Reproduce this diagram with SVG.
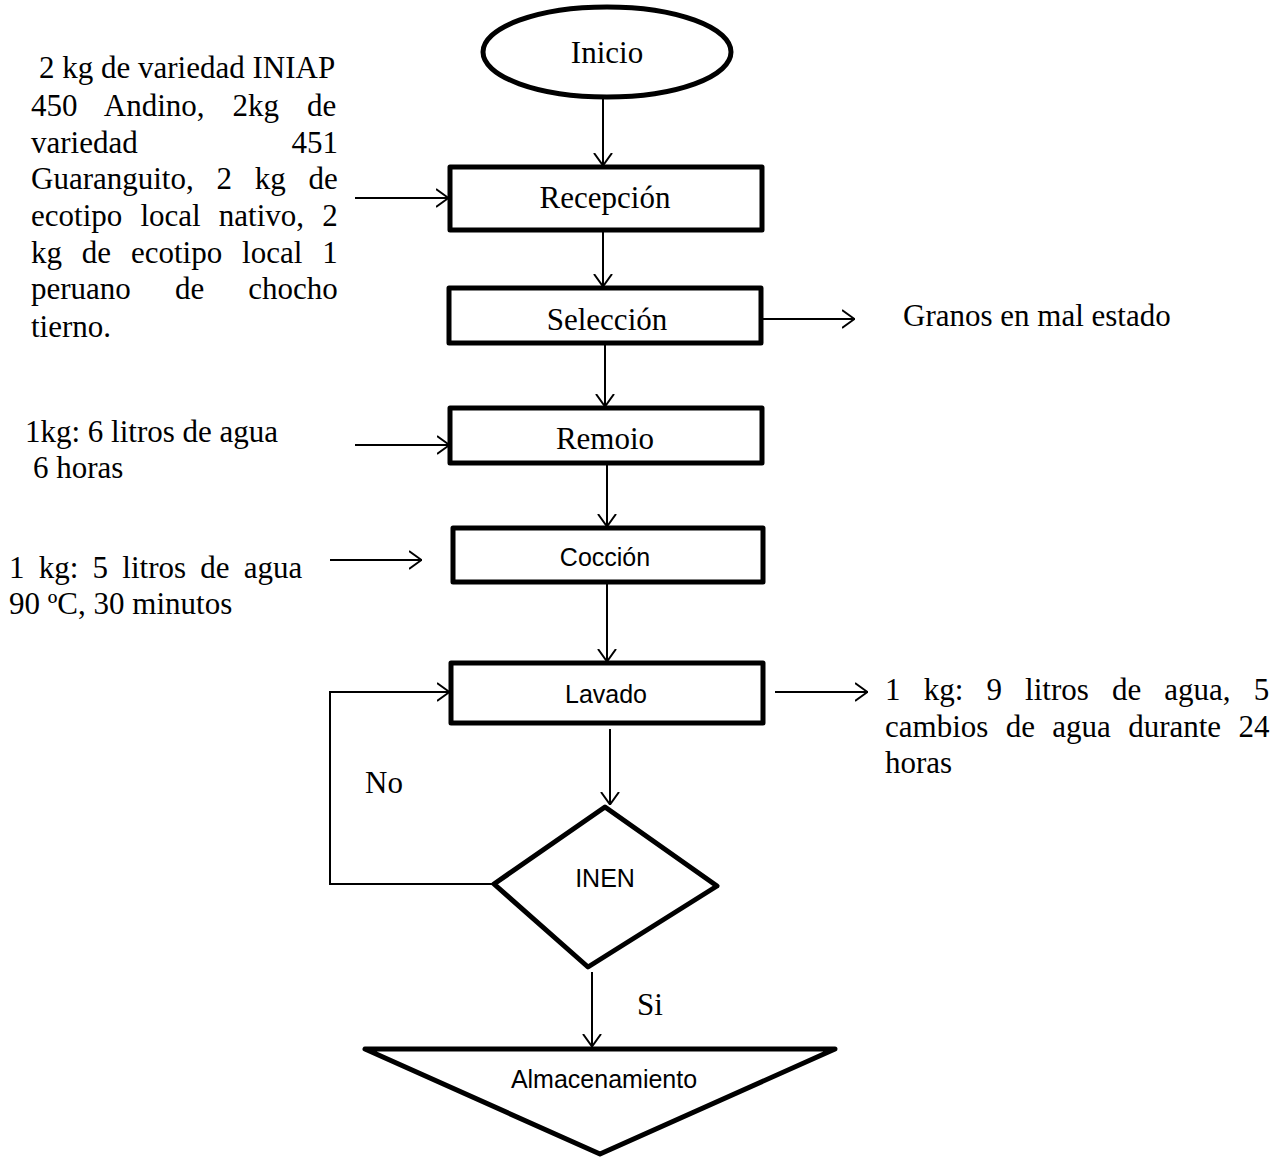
<svg xmlns="http://www.w3.org/2000/svg" width="1288" height="1157" viewBox="0 0 1288 1157">
<style>
.shape{fill:#fff;stroke:#000;stroke-width:5;stroke-linejoin:round}
.conn{fill:none;stroke:#000;stroke-width:2}
.ser{font-family:"Liberation Serif","Times New Roman",serif;font-size:31px;fill:#000}
.sans{font-family:"Liberation Sans",Arial,sans-serif;font-size:25px;fill:#000}
.mid{text-anchor:middle}
.end{text-anchor:end}
</style>
<defs>
<marker id="ah" viewBox="0 0 13 20" refX="13" refY="10" markerWidth="13" markerHeight="20" markerUnits="userSpaceOnUse" orient="auto">
<path d="M0,1 L12.5,10 L0,19" fill="none" stroke="#000" stroke-width="2"/>
</marker>
</defs>
<rect width="1288" height="1157" fill="#fff"/>
<g id="connectors">
<line class="conn" x1="603" y1="98" x2="603" y2="166" marker-end="url(#ah)"/>
<line class="conn" x1="603" y1="231" x2="603" y2="287" marker-end="url(#ah)"/>
<line class="conn" x1="605" y1="344" x2="605" y2="407" marker-end="url(#ah)"/>
<line class="conn" x1="607" y1="464" x2="607" y2="527" marker-end="url(#ah)"/>
<line class="conn" x1="607" y1="583" x2="607" y2="662" marker-end="url(#ah)"/>
<line class="conn" x1="610" y1="729" x2="610" y2="805" marker-end="url(#ah)"/>
<line class="conn" x1="592" y1="972" x2="592" y2="1047" marker-end="url(#ah)"/>
<polyline class="conn" points="494,884 330,884 330,692 450,692" marker-end="url(#ah)"/>
<line class="conn" x1="355" y1="198" x2="449" y2="198" marker-end="url(#ah)"/>
<line class="conn" x1="355" y1="445" x2="450" y2="445" marker-end="url(#ah)"/>
<line class="conn" x1="330" y1="560" x2="422" y2="560" marker-end="url(#ah)"/>
<line class="conn" x1="761" y1="319" x2="855" y2="319" marker-end="url(#ah)"/>
<line class="conn" x1="775" y1="692" x2="868" y2="692" marker-end="url(#ah)"/>
</g>
<g id="inicio">
<ellipse class="shape" cx="607" cy="52" rx="124" ry="45"/>
<text class="ser mid" x="607" y="63">Inicio</text>
</g>
<g id="recepcion">
<rect class="shape" x="450" y="167" width="312" height="63"/>
<text class="ser mid" x="605" y="208">Recepción</text>
</g>
<g id="seleccion">
<rect class="shape" x="449" y="288" width="312" height="55"/>
<text class="ser mid" x="607" y="330">Selección</text>
</g>
<g id="remoio">
<rect class="shape" x="450" y="408" width="312" height="55"/>
<text class="ser mid" x="605" y="449">Remoio</text>
</g>
<g id="coccion">
<rect class="shape" x="453" y="528" width="310" height="54"/>
<text class="sans mid" x="605" y="566">Cocción</text>
</g>
<g id="lavado">
<rect class="shape" x="451" y="663" width="312" height="60"/>
<text class="sans mid" x="606" y="703">Lavado</text>
</g>
<g id="inen">
<polygon class="shape" points="605,807 717,886 588,967 494,884"/>
<text class="sans mid" x="605" y="887">INEN</text>
</g>
<g id="almacenamiento">
<polygon class="shape" points="365,1049 835,1049 600,1154"/>
<text class="sans mid" x="604" y="1088">Almacenamiento</text>
</g>
<g id="label-entrada">
<text class="ser" x="39" y="78">2 kg de variedad INIAP</text>
<text class="ser" x="31" y="116" word-spacing="20.2">450 Andino, 2kg de</text>
<text class="ser" x="31" y="153">variedad</text>
<text class="ser end" x="338" y="153">451</text>
<text class="ser" x="31" y="189" word-spacing="15">Guaranguito, 2 kg de</text>
<text class="ser" x="31" y="226" word-spacing="10.4">ecotipo local nativo, 2</text>
<text class="ser" x="31" y="263" word-spacing="12.1">kg de ecotipo local 1</text>
<text class="ser" x="31" y="299" word-spacing="36.3">peruano de chocho</text>
<text class="ser" x="31" y="337">tierno.</text>
</g>
<g id="label-granos">
<text class="ser" x="903" y="326">Granos en mal estado</text>
</g>
<g id="label-remoio">
<text class="ser" x="25" y="442">1kg: 6 litros de agua</text>
<text class="ser" x="33" y="478">6 horas</text>
</g>
<g id="label-coccion">
<text class="ser" x="9" y="578" word-spacing="6.5">1 kg: 5 litros de agua</text>
<text class="ser" x="9" y="614">90 ºC, 30 minutos</text>
</g>
<g id="label-lavado">
<text class="ser" x="885" y="700" word-spacing="15.4">1 kg: 9 litros de agua, 5</text>
<text class="ser" x="885" y="737" word-spacing="9.6">cambios de agua durante 24</text>
<text class="ser" x="885" y="773">horas</text>
</g>
<g id="label-no"><text class="ser" x="365" y="793">No</text></g>
<g id="label-si"><text class="ser" x="637" y="1015">Si</text></g>
</svg>
